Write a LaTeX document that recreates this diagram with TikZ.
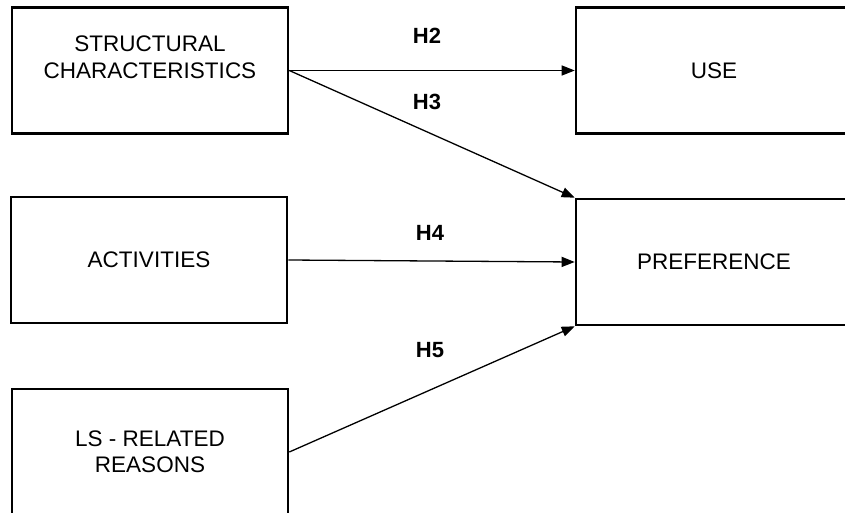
\documentclass[tikz,border=0pt]{standalone}
\usepackage{fontspec}
\setmainfont{Liberation Sans}
\usetikzlibrary{arrows.meta}
\begin{document}
\begin{tikzpicture}[x=1pt,y=-1pt,
  construct/.style={draw=black, line width=2.6pt, minimum width=276pt, minimum height=126pt,
    align=center, inner sep=0pt, font=\fontsize{22.5}{26.5}\selectfont},
  path/.style={line width=1.3pt, -{Triangle[length=13pt,width=10pt]}},
  hyp/.style={font=\fontsize{22}{26}\selectfont\bfseries}]
\useasboundingbox (0,0) rectangle (845,513);
\fill[white] (0,0) rectangle (845,513);

% constructs
\node[construct] (sc)   at (150,70.5) {STRUCTURAL\\CHARACTERISTICS\\\mbox{}};
\node[construct] (use)  at (714,70.5) {USE};
\node[construct] (act)  at (149,260)  {ACTIVITIES};
\node[construct] (pref) at (714,262)  {PREFERENCE};
\node[construct] (ls)   at (150,452)  {LS - RELATED\\REASONS};

% hypothesised paths
\draw[path] (sc.east) -- (use.west);
\draw[path] (sc.east) -- (pref.north west);
\draw[path] (act.east) -- (pref.west);
\draw[path] (ls.east) -- (pref.south west);

% path labels
\node[hyp] (h2) at (427,36)  {H2};
\node[hyp] (h3) at (427,102) {H3};
\node[hyp] (h4) at (430,233) {H4};
\node[hyp] (h5) at (430,350) {H5};
\end{tikzpicture}
\end{document}
